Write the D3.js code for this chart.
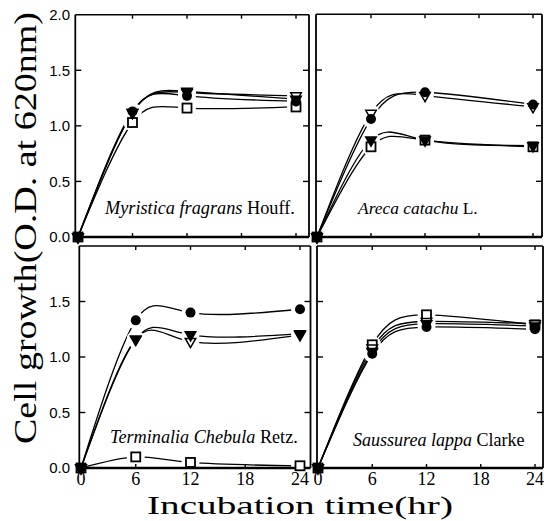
<!DOCTYPE html>
<html><head><meta charset="utf-8">
<script src="https://cdn.jsdelivr.net/npm/d3@7"></script>
<style>body{margin:0;background:#fff} svg{display:block}</style>
</head><body><svg id="c" width="544" height="521"></svg>
<script>
// ---------------- DATA ----------------
const times = [0, 6, 12, 24];
const xTickValues = [0, 6, 12, 18, 24];
const xTickLabels = ["0", "6", "12", "18", "24"];
const yTicksTop = [0.0, 0.5, 1.0, 1.5, 2.0];
const yTicksBottom = [0.0, 0.5, 1.0, 1.5];
const seriesKeys = ["squareOpen", "triOpen", "circleFilled", "triFilled"];

const myristicaCircle = [0, 1.13, 1.27, 1.22];
const myristicaTriOpen = [0, 1.12, 1.30, 1.27];
const myristicaTriFilled = [0, 1.12, 1.31, 1.24];
const myristicaSquare = [0, 1.03, 1.16, 1.17];

const arecaCircle = [0, 1.06, 1.30, 1.19];
const arecaTriOpen = [0, 1.11, 1.27, 1.17];
const arecaTriFilled = [0, 0.87, 0.87, 0.82];
const arecaSquare = [0, 0.81, 0.87, 0.81];

const terminaliaCircle = [0, 1.33, 1.40, 1.43];
const terminaliaTriOpen = [0, 1.16, 1.14, 1.20];
const terminaliaTriFilled = [0, 1.16, 1.20, 1.21];
const terminaliaSquare = [0, 0.10, 0.05, 0.02];

const saussureaCircle = [0, 1.03, 1.27, 1.25];
const saussureaTriOpen = [0, 1.08, 1.32, 1.30];
const saussureaTriFilled = [0, 1.05, 1.30, 1.28];
const saussureaSquare = [0, 1.11, 1.38, 1.29];

const panelNames = ["Myristica fragrans", "Areca catachu", "Terminalia Chebula", "Saussurea lappa"];
const panelAuthors = ["Houff.", "L.", "Retz.", "Clarke"];

const yTitle = "Cell growth(O.D. at 620nm)";
const xTitle = "Incubation time(hr)";

// ---------------- LAYOUT ----------------
const panels = [
  {name: panelNames[0], author: panelAuthors[0],
   series: {circleFilled: myristicaCircle, triOpen: myristicaTriOpen, triFilled: myristicaTriFilled, squareOpen: myristicaSquare},
   frame: {x0: 75.3, x1: 309, y0: 14.7, y1: 237}, xr: [78, 296], yr: [237, 14.7],
   label: {x: 105, y: 214, w: 191}, yTicks: yTicksTop, xLabels: false, yLabels: true},
  {name: panelNames[1], author: panelAuthors[1],
   series: {circleFilled: arecaCircle, triOpen: arecaTriOpen, triFilled: arecaTriFilled, squareOpen: arecaSquare},
   frame: {x0: 316, x1: 542, y0: 14.3, y1: 237}, xr: [317, 533], yr: [237, 14.3],
   label: {x: 358, y: 214, w: 121}, yTicks: yTicksTop, xLabels: false, yLabels: false},
  {name: panelNames[2], author: panelAuthors[2],
   series: {circleFilled: terminaliaCircle, triOpen: terminaliaTriOpen, triFilled: terminaliaTriFilled, squareOpen: terminaliaSquare},
   frame: {x0: 79.3, x1: 310.5, y0: 246, y1: 468}, xr: [81, 300], yr: [468, 246],
   label: {x: 110, y: 443, w: 188}, yTicks: yTicksBottom, xLabels: true, yLabels: true},
  {name: panelNames[3], author: panelAuthors[3],
   series: {circleFilled: saussureaCircle, triOpen: saussureaTriOpen, triFilled: saussureaTriFilled, squareOpen: saussureaSquare},
   frame: {x0: 317, x1: 543, y0: 246, y1: 468}, xr: [318, 535], yr: [468, 246],
   label: {x: 353, y: 446, w: 172}, yTicks: yTicksBottom, xLabels: true, yLabels: false}
];

const svg = d3.select("#c");
svg.append("rect").attr("width", 544).attr("height", 521).attr("fill", "#fff");

const triDown = d3.symbol().type(d3.symbolTriangle).size(48);

panels.forEach(p => {
  const g = svg.append("g");
  const x = d3.scaleLinear().domain([0, 24]).range(p.xr);
  const y = d3.scaleLinear().domain([0, 2]).range(p.yr);
  const line = d3.line().x((d, i) => x(times[i])).y(d => y(d)).curve(d3.curveNatural);

  // lines
  seriesKeys.forEach(k => {
    g.append("path").attr("d", line(p.series[k])).attr("fill", "none")
      .attr("stroke", "#000").attr("stroke-width", 1.3);
  });
  // white gaps around markers
  seriesKeys.forEach(k => {
    p.series[k].forEach((v, i) => {
      if (times[i] === 0) return;
      g.append("circle").attr("cx", x(times[i])).attr("cy", y(v)).attr("r", 9).attr("fill", "#fff");
    });
  });
  // frame
  const f = p.frame;
  g.append("line").attr("x1", f.x0).attr("x2", f.x1).attr("y1", f.y0).attr("y2", f.y0).attr("stroke", "#000").attr("stroke-width", 1.6);
  g.append("line").attr("x1", f.x0).attr("x2", f.x1).attr("y1", f.y1).attr("y2", f.y1).attr("stroke", "#000").attr("stroke-width", 2.4);
  g.append("line").attr("x1", f.x0).attr("x2", f.x0).attr("y1", f.y0).attr("y2", f.y1).attr("stroke", "#000").attr("stroke-width", 1.8);
  g.append("line").attr("x1", f.x1).attr("x2", f.x1).attr("y1", f.y0).attr("y2", f.y1).attr("stroke", "#000").attr("stroke-width", 1.8);
  // ticks
  xTickValues.filter(t => t > 0).forEach(t => {
    g.append("line").attr("x1", x(t)).attr("x2", x(t)).attr("y1", f.y0).attr("y2", f.y0 + 4).attr("stroke", "#000").attr("stroke-width", 1.4);
    g.append("line").attr("x1", x(t)).attr("x2", x(t)).attr("y1", f.y1).attr("y2", f.y1 - 4).attr("stroke", "#000").attr("stroke-width", 1.4);
  });
  [0.5, 1.0, 1.5].forEach(v => {
    g.append("line").attr("x1", f.x0).attr("x2", f.x0 + 6).attr("y1", y(v)).attr("y2", y(v)).attr("stroke", "#000").attr("stroke-width", 1.4);
    g.append("line").attr("x1", f.x1).attr("x2", f.x1 - 6).attr("y1", y(v)).attr("y2", y(v)).attr("stroke", "#000").attr("stroke-width", 1.4);
  });
  // tick labels
  if (p.yLabels) {
    p.yTicks.forEach(v => {
      g.append("text").attr("x", 70).attr("y", y(v)).attr("dy", "0.36em")
        .attr("text-anchor", "end").attr("font-family", "Liberation Sans, Arial, sans-serif")
        .attr("font-size", 15).attr("fill", "#000").text(d3.format(".1f")(v));
    });
  }
  if (p.xLabels) {
    xTickValues.forEach((t, i) => {
      g.append("text").attr("x", x(t)).attr("y", 485).attr("text-anchor", "middle")
        .attr("font-family", "Liberation Serif, Times New Roman, serif").attr("font-size", 18).attr("fill", "#000")
        .text(xTickLabels[i]);
    });
  }
  // markers
  seriesKeys.forEach(k => {
    p.series[k].forEach((v, i) => {
      const cx = x(times[i]), cy = y(v);
      if (k === "circleFilled") {
        g.append("circle").attr("cx", cx).attr("cy", cy).attr("r", 5).attr("fill", "#000");
      } else if (k === "squareOpen") {
        g.append("rect").attr("x", cx - 4.5).attr("y", cy - 4.5).attr("width", 9).attr("height", 9)
          .attr("fill", "#fff").attr("stroke", "#000").attr("stroke-width", 1.8);
      } else {
        g.append("path").attr("d", triDown()).attr("transform", `translate(${cx},${cy}) rotate(180)`)
          .attr("fill", k === "triFilled" ? "#000" : "#fff").attr("stroke", "#000").attr("stroke-width", 1.5);
      }
    });
  });
  // species label
  const t = g.append("text").attr("x", p.label.x).attr("y", p.label.y)
    .attr("font-family", "Liberation Serif, Times New Roman, serif").attr("font-size", 15).attr("fill", "#000");
  t.append("tspan").attr("font-style", "italic").text(p.name + " ");
  t.append("tspan").text(p.author);
  const w = t.node().getBBox().width;
  t.attr("font-size", 15 * p.label.w / w);
});

// axis titles
svg.append("text").attr("transform", "translate(36,228) rotate(-90)")
  .attr("text-anchor", "middle").attr("font-family", "Liberation Serif, Times New Roman, serif")
  .attr("font-size", 31).attr("textLength", 432).attr("lengthAdjust", "spacingAndGlyphs")
  .attr("fill", "#000").text(yTitle);
svg.append("text").attr("x", 300).attr("y", 514)
  .attr("text-anchor", "middle").attr("font-family", "Liberation Serif, Times New Roman, serif")
  .attr("font-size", 25).attr("textLength", 306).attr("lengthAdjust", "spacingAndGlyphs")
  .attr("fill", "#000").text(xTitle);
</script></body></html>
